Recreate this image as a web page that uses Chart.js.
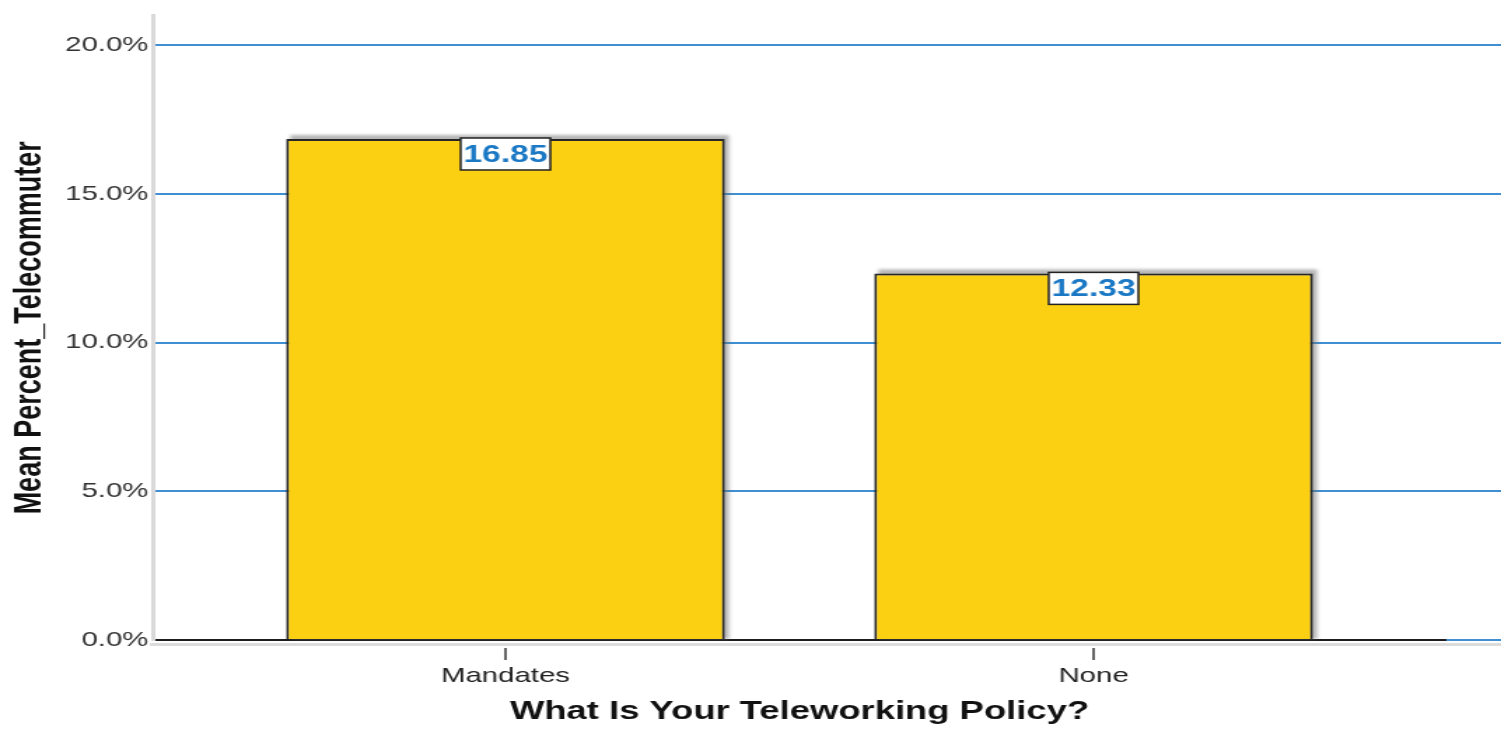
<!DOCTYPE html>
<html>
<head>
<meta charset="utf-8">
<script src="https://cdn.jsdelivr.net/npm/chart.js@4.4.1/dist/chart.umd.min.js"></script>
<style>
    html, body { margin: 0; padding: 0; background: #fff; overflow: hidden; }
    /* the chart is drawn narrow and stretched sideways to the window width */
    #wrap { width: 1072px; height: 733px; transform: scaleX(1.4002); transform-origin: 0 0; }
</style>
</head>
<body>
<div id="wrap"><canvas id="grafico"></canvas></div>
<script>
// categorie e medie
const categorie = ['Mandates', 'None'];
const medie = [16.85, 12.33];
const tickAsseY = [0, 5, 10, 15, 20];

const coloreGriglia = '#3f8fd2';

// allunga le linee della griglia oltre l'area del grafico, fino al bordo destro
const pluginGriglia = {
    id: 'grigliaEstesa',
    beforeDatasetsDraw(chart) {
        const { ctx, chartArea, scales } = chart;
        ctx.save();
        ctx.strokeStyle = coloreGriglia;
        ctx.lineWidth = 2;
        scales.y.ticks.forEach(t => {
            const y = Math.round(scales.y.getPixelForValue(t.value) - 1) + 1;
            ctx.beginPath();
            ctx.moveTo(chartArea.right, y);
            ctx.lineTo(chart.width, y);
            ctx.stroke();
        });

        // ombra grigia delle barre
        const meta = chart.getDatasetMeta(0);
        ctx.fillStyle = 'rgba(110,110,110,0.5)';
        ctx.filter = 'blur(1.5px)';
        meta.data.forEach(bar => {
            const { x, y, base, width } = bar.getProps(['x', 'y', 'base', 'width'], true);
            ctx.fillRect(x - width / 2 + 3, y - 4, width, base - y + 4);
        });
        ctx.restore();
    },
    afterDraw(chart) {
        const { ctx, chartArea, scales } = chart;
        const y0 = scales.y.getPixelForValue(0);
        ctx.save();
        // ombra sotto l'asse x
        ctx.strokeStyle = '#dcdcdc';
        ctx.lineWidth = 3;
        ctx.beginPath();
        ctx.moveTo(chartArea.left - 2, y0 + 4.5);
        ctx.lineTo(chart.width, y0 + 4.5);
        ctx.stroke();

        // tacche delle categorie
        ctx.strokeStyle = '#333';
        ctx.lineWidth = 1.5;
        scales.x.ticks.forEach(t => {
            const x = scales.x.getPixelForValue(t.value);
            ctx.beginPath();
            ctx.moveTo(x, y0 + 8);
            ctx.lineTo(x, y0 + 20);
            ctx.stroke();
        });

        // etichette con il valore in cima a ogni barra
        const meta = chart.getDatasetMeta(0);
        ctx.font = 'bold 24px "Liberation Sans", Arial, sans-serif';
        ctx.textAlign = 'center';
        ctx.textBaseline = 'middle';
        meta.data.forEach((bar, i) => {
            const testo = medie[i].toFixed(2);
            const w = ctx.measureText(testo).width + 4;
            const h = 32;
            const top = bar.y - 1;
            ctx.fillStyle = '#fff';
            ctx.fillRect(bar.x - w / 2, top, w, h);
            ctx.strokeStyle = '#222';
            ctx.lineWidth = 1.5;
            ctx.strokeRect(bar.x - w / 2, top, w, h);
            ctx.fillStyle = '#1a78c4';
            ctx.fillText(testo, bar.x, top + h / 2 + 1);
        });
        ctx.restore();
    }
};

Chart.defaults.font.family = '"Liberation Sans", Arial, sans-serif';

new Chart(document.getElementById('grafico'), {
    type: 'bar',
    data: {
        datasets: [{
            data: medie.map((v, i) => ({ x: i, y: v })),
            backgroundColor: '#fcd012',
            borderColor: '#262626',
            borderWidth: 2,
            categoryPercentage: 1,
            barPercentage: 0.746
        }]
    },
    options: {
        responsive: true,
        maintainAspectRatio: false,
        animation: false,
        layout: { padding: { left: 0, right: 39, top: 10, bottom: 0 } },
        plugins: {
            legend: { display: false },
            tooltip: { enabled: false }
        },
        scales: {
            x: {
                type: 'linear',
                min: -0.6,
                max: 1.6,
                offset: false,
                z: 1,
                afterBuildTicks: scale => { scale.ticks = categorie.map((c, i) => ({ value: i })); },
                afterFit: scale => { scale.height = 93; },
                grid: { display: false, drawTicks: false, offset: false },
                border: { display: true, color: '#1e1e1e', width: 2 },
                ticks: {
                    callback: v => categorie[v],
                    color: '#222',
                    padding: 24,
                    font: { size: 21 },
                    maxRotation: 0
                },
                title: {
                    display: true,
                    text: 'What Is Your Teleworking Policy?',
                    color: '#111',
                    font: { size: 26, weight: 'bold' },
                    padding: { top: 0, bottom: 6 }
                }
            },
            y: {
                min: 0,
                max: 21,
                afterBuildTicks: scale => { scale.ticks = tickAsseY.map(v => ({ value: v })); },
                afterFit: scale => { scale.width = 109; },
                grid: { color: coloreGriglia, lineWidth: 2, drawTicks: false },
                border: { color: '#d9d9d9', width: 3 },
                ticks: {
                    callback: v => v.toFixed(1) + '%',
                    color: '#333',
                    padding: 3,
                    font: { size: 21 }
                },
                title: {
                    display: true,
                    text: 'Mean Percent_Telecommuter',
                    color: '#111',
                    font: { size: 27, weight: 'bold' },
                    padding: { top: 5, bottom: 0 }
                }
            }
        }
    },
    plugins: [pluginGriglia]
});
</script>
</body>
</html>
